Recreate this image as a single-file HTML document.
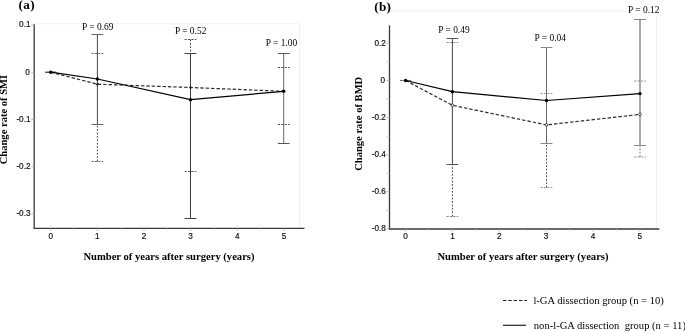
<!DOCTYPE html>
<html><head><meta charset="utf-8"><style>
html,body{margin:0;padding:0;background:#fff;width:685px;height:331px;overflow:hidden}
svg{display:block;will-change:transform}
</style></head><body>
<svg width="685" height="331" viewBox="0 0 685 331">
<rect width="685" height="331" fill="#fff"/>
<line x1="34.2" y1="23.8" x2="299.5" y2="23.8" stroke="#f1f1f1" stroke-width="1"/>
<line x1="299.5" y1="23.8" x2="299.5" y2="228.4" stroke="#f1f1f1" stroke-width="1"/>
<rect x="81.6" y="22.2" width="31" height="9.5" fill="#fff"/>
<rect x="174.4" y="26.3" width="31" height="9.5" fill="#fff"/>
<rect x="265.2" y="38.6" width="31" height="9.5" fill="#fff"/>
<line x1="34.2" y1="24.2" x2="34.2" y2="229" stroke="#3a3a3a" stroke-width="1.3"/>
<line x1="33.6" y1="228.4" x2="304.5" y2="228.4" stroke="#3a3a3a" stroke-width="1.3"/>
<line x1="31.2" y1="25.15" x2="34.2" y2="25.15" stroke="#aaaaaa" stroke-width="0.8"/>
<text x="30.5" y="27.45" font-family='"Liberation Sans", sans-serif' font-size="8.2" text-anchor="end" fill="#111" stroke="#111" stroke-width="0.18">0.1</text>
<line x1="31.2" y1="72.3" x2="34.2" y2="72.3" stroke="#aaaaaa" stroke-width="0.8"/>
<text x="29.7" y="74.6" font-family='"Liberation Sans", sans-serif' font-size="8.2" text-anchor="end" fill="#111" stroke="#111" stroke-width="0.18">0</text>
<line x1="31.2" y1="119.45" x2="34.2" y2="119.45" stroke="#aaaaaa" stroke-width="0.8"/>
<text x="30.5" y="121.75" font-family='"Liberation Sans", sans-serif' font-size="8.2" text-anchor="end" fill="#111" stroke="#111" stroke-width="0.18">-0.1</text>
<line x1="31.2" y1="166.6" x2="34.2" y2="166.6" stroke="#aaaaaa" stroke-width="0.8"/>
<text x="30.5" y="168.9" font-family='"Liberation Sans", sans-serif' font-size="8.2" text-anchor="end" fill="#111" stroke="#111" stroke-width="0.18">-0.2</text>
<line x1="31.2" y1="213.75" x2="34.2" y2="213.75" stroke="#aaaaaa" stroke-width="0.8"/>
<text x="30.5" y="216.05" font-family='"Liberation Sans", sans-serif' font-size="8.2" text-anchor="end" fill="#111" stroke="#111" stroke-width="0.18">-0.3</text>
<line x1="50.7" y1="228.4" x2="50.7" y2="230.9" stroke="#aaaaaa" stroke-width="0.8"/>
<text x="50.7" y="238.6" font-family='"Liberation Sans", sans-serif' font-size="8.2" text-anchor="middle" fill="#111" stroke="#111" stroke-width="0.18">0</text>
<line x1="74.03" y1="228.4" x2="74.03" y2="230.4" stroke="#cccccc" stroke-width="0.8"/>
<line x1="97.35" y1="228.4" x2="97.35" y2="230.9" stroke="#aaaaaa" stroke-width="0.8"/>
<text x="97.35" y="238.6" font-family='"Liberation Sans", sans-serif' font-size="8.2" text-anchor="middle" fill="#111" stroke="#111" stroke-width="0.18">1</text>
<line x1="120.67" y1="228.4" x2="120.67" y2="230.4" stroke="#cccccc" stroke-width="0.8"/>
<line x1="144" y1="228.4" x2="144" y2="230.9" stroke="#aaaaaa" stroke-width="0.8"/>
<text x="144" y="238.6" font-family='"Liberation Sans", sans-serif' font-size="8.2" text-anchor="middle" fill="#111" stroke="#111" stroke-width="0.18">2</text>
<line x1="167.32" y1="228.4" x2="167.32" y2="230.4" stroke="#cccccc" stroke-width="0.8"/>
<line x1="190.65" y1="228.4" x2="190.65" y2="230.9" stroke="#aaaaaa" stroke-width="0.8"/>
<text x="190.65" y="238.6" font-family='"Liberation Sans", sans-serif' font-size="8.2" text-anchor="middle" fill="#111" stroke="#111" stroke-width="0.18">3</text>
<line x1="213.97" y1="228.4" x2="213.97" y2="230.4" stroke="#cccccc" stroke-width="0.8"/>
<line x1="237.3" y1="228.4" x2="237.3" y2="230.9" stroke="#aaaaaa" stroke-width="0.8"/>
<text x="237.3" y="238.6" font-family='"Liberation Sans", sans-serif' font-size="8.2" text-anchor="middle" fill="#111" stroke="#111" stroke-width="0.18">4</text>
<line x1="260.62" y1="228.4" x2="260.62" y2="230.4" stroke="#cccccc" stroke-width="0.8"/>
<line x1="283.95" y1="228.4" x2="283.95" y2="230.9" stroke="#aaaaaa" stroke-width="0.8"/>
<text x="283.95" y="238.6" font-family='"Liberation Sans", sans-serif' font-size="8.2" text-anchor="middle" fill="#111" stroke="#111" stroke-width="0.18">5</text>
<text x="83.4" y="260.2" font-family='"Liberation Serif", serif' font-size="10.6" font-weight="bold" fill="#000" >Number of years after surgery (years)</text>
<text x="7.4" y="119.6" font-family='"Liberation Serif", serif' font-size="10.55" font-weight="bold" text-anchor="middle" fill="#000" transform="rotate(-90 7.4 119.6)">Change rate of SMI</text>
<line x1="45.1" y1="72.2" x2="56.3" y2="72.2" stroke="#222" stroke-width="1.1"/>
<line x1="97.4" y1="161.5" x2="97.4" y2="124.5" stroke="#444" stroke-width="1" stroke-dasharray="1.8,1.6"/>
<line x1="91.5" y1="53.5" x2="103.3" y2="53.5" stroke="#666" stroke-width="1" stroke-dasharray="2.2,1.2"/>
<line x1="91.5" y1="161.5" x2="103.3" y2="161.5" stroke="#666" stroke-width="1" stroke-dasharray="2.2,1.2"/>
<line x1="190.5" y1="39.5" x2="190.5" y2="53.5" stroke="#444" stroke-width="1" stroke-dasharray="1.8,1.6"/>
<line x1="184.6" y1="39.5" x2="196.4" y2="39.5" stroke="#555" stroke-width="1" stroke-dasharray="2.2,1.2"/>
<line x1="184.6" y1="171.5" x2="196.4" y2="171.5" stroke="#555" stroke-width="1" stroke-dasharray="2.2,1.2"/>
<line x1="277.8" y1="67.5" x2="289.6" y2="67.5" stroke="#555" stroke-width="1" stroke-dasharray="2.2,1.2"/>
<line x1="277.8" y1="124.5" x2="289.6" y2="124.5" stroke="#555" stroke-width="1" stroke-dasharray="2.2,1.2"/>
<line x1="97.4" y1="34.5" x2="97.4" y2="124.5" stroke="#444" stroke-width="1"/>
<line x1="91.5" y1="34.5" x2="103.3" y2="34.5" stroke="#666" stroke-width="1"/>
<line x1="91.5" y1="124.5" x2="103.3" y2="124.5" stroke="#666" stroke-width="1"/>
<line x1="190.5" y1="53.5" x2="190.5" y2="218.5" stroke="#3a3a3a" stroke-width="1"/>
<line x1="184.6" y1="53.5" x2="196.4" y2="53.5" stroke="#444" stroke-width="1"/>
<line x1="184.6" y1="218.5" x2="196.4" y2="218.5" stroke="#444" stroke-width="1"/>
<line x1="283.7" y1="53.5" x2="283.7" y2="143.5" stroke="#666" stroke-width="1"/>
<line x1="277.8" y1="53.5" x2="289.6" y2="53.5" stroke="#555" stroke-width="1"/>
<line x1="277.8" y1="143.5" x2="289.6" y2="143.5" stroke="#555" stroke-width="1"/>
<polyline points="50.7,72.2 97.4,84.2 190.5,87.5 283.7,91.3" fill="none" stroke="#2a2a2a" stroke-width="1.2" stroke-dasharray="3.4,2"/>
<polyline points="50.7,72.2 97.4,79.0 190.5,99.7 283.7,91.3" fill="none" stroke="#000" stroke-width="1.2"/>
<circle cx="97.4" cy="79.0" r="1.7" fill="#000"/>
<circle cx="190.5" cy="99.7" r="1.7" fill="#000"/>
<circle cx="283.7" cy="91.3" r="1.7" fill="#000"/>
<circle cx="50.7" cy="72.2" r="1.7" fill="#000"/>
<text x="82.1" y="29.7" font-family='"Liberation Serif", serif' font-size="9.45" fill="#000" >P = 0.69</text>
<text x="174.9" y="33.8" font-family='"Liberation Serif", serif' font-size="9.45" fill="#000" >P = 0.52</text>
<text x="265.7" y="46.1" font-family='"Liberation Serif", serif' font-size="9.45" fill="#000" >P = 1.00</text>
<line x1="389.5" y1="11.1" x2="656.5" y2="11.1" stroke="#f1f1f1" stroke-width="1"/>
<line x1="656.5" y1="11.1" x2="656.5" y2="229" stroke="#f1f1f1" stroke-width="1"/>
<rect x="437.7" y="25.7" width="31" height="9.5" fill="#fff"/>
<rect x="534" y="33.6" width="31" height="9.5" fill="#fff"/>
<rect x="627.5" y="5.6" width="31" height="9.5" fill="#fff"/>
<line x1="389.5" y1="25.3" x2="389.5" y2="229.6" stroke="#3a3a3a" stroke-width="1.3"/>
<line x1="388.9" y1="229" x2="659.4" y2="229" stroke="#3a3a3a" stroke-width="1.3"/>
<line x1="386.5" y1="43.25" x2="389.5" y2="43.25" stroke="#aaaaaa" stroke-width="0.8"/>
<text x="385.8" y="45.55" font-family='"Liberation Sans", sans-serif' font-size="8.2" text-anchor="end" fill="#111" stroke="#111" stroke-width="0.18">0.2</text>
<line x1="386.5" y1="80.4" x2="389.5" y2="80.4" stroke="#aaaaaa" stroke-width="0.8"/>
<text x="385" y="82.7" font-family='"Liberation Sans", sans-serif' font-size="8.2" text-anchor="end" fill="#111" stroke="#111" stroke-width="0.18">0</text>
<line x1="386.5" y1="117.55" x2="389.5" y2="117.55" stroke="#aaaaaa" stroke-width="0.8"/>
<text x="385.8" y="119.85" font-family='"Liberation Sans", sans-serif' font-size="8.2" text-anchor="end" fill="#111" stroke="#111" stroke-width="0.18">-0.2</text>
<line x1="386.5" y1="154.7" x2="389.5" y2="154.7" stroke="#aaaaaa" stroke-width="0.8"/>
<text x="385.8" y="157" font-family='"Liberation Sans", sans-serif' font-size="8.2" text-anchor="end" fill="#111" stroke="#111" stroke-width="0.18">-0.4</text>
<line x1="386.5" y1="191.85" x2="389.5" y2="191.85" stroke="#aaaaaa" stroke-width="0.8"/>
<text x="385.8" y="194.15" font-family='"Liberation Sans", sans-serif' font-size="8.2" text-anchor="end" fill="#111" stroke="#111" stroke-width="0.18">-0.6</text>
<line x1="386.5" y1="229" x2="389.5" y2="229" stroke="#aaaaaa" stroke-width="0.8"/>
<text x="385.8" y="231.3" font-family='"Liberation Sans", sans-serif' font-size="8.2" text-anchor="end" fill="#111" stroke="#111" stroke-width="0.18">-0.8</text>
<line x1="386.5" y1="61.83" x2="389.5" y2="61.83" stroke="#bbbbbb" stroke-width="0.8"/>
<line x1="386.5" y1="98.98" x2="389.5" y2="98.98" stroke="#bbbbbb" stroke-width="0.8"/>
<line x1="386.5" y1="136.12" x2="389.5" y2="136.12" stroke="#bbbbbb" stroke-width="0.8"/>
<line x1="386.5" y1="173.28" x2="389.5" y2="173.28" stroke="#bbbbbb" stroke-width="0.8"/>
<line x1="386.5" y1="210.43" x2="389.5" y2="210.43" stroke="#bbbbbb" stroke-width="0.8"/>
<line x1="405.6" y1="229" x2="405.6" y2="231.5" stroke="#aaaaaa" stroke-width="0.8"/>
<text x="405.6" y="239.2" font-family='"Liberation Sans", sans-serif' font-size="8.2" text-anchor="middle" fill="#111" stroke="#111" stroke-width="0.18">0</text>
<line x1="429.02" y1="229" x2="429.02" y2="231" stroke="#cccccc" stroke-width="0.8"/>
<line x1="452.45" y1="229" x2="452.45" y2="231.5" stroke="#aaaaaa" stroke-width="0.8"/>
<text x="452.45" y="239.2" font-family='"Liberation Sans", sans-serif' font-size="8.2" text-anchor="middle" fill="#111" stroke="#111" stroke-width="0.18">1</text>
<line x1="475.88" y1="229" x2="475.88" y2="231" stroke="#cccccc" stroke-width="0.8"/>
<line x1="499.3" y1="229" x2="499.3" y2="231.5" stroke="#aaaaaa" stroke-width="0.8"/>
<text x="499.3" y="239.2" font-family='"Liberation Sans", sans-serif' font-size="8.2" text-anchor="middle" fill="#111" stroke="#111" stroke-width="0.18">2</text>
<line x1="522.72" y1="229" x2="522.72" y2="231" stroke="#cccccc" stroke-width="0.8"/>
<line x1="546.15" y1="229" x2="546.15" y2="231.5" stroke="#aaaaaa" stroke-width="0.8"/>
<text x="546.15" y="239.2" font-family='"Liberation Sans", sans-serif' font-size="8.2" text-anchor="middle" fill="#111" stroke="#111" stroke-width="0.18">3</text>
<line x1="569.57" y1="229" x2="569.57" y2="231" stroke="#cccccc" stroke-width="0.8"/>
<line x1="593" y1="229" x2="593" y2="231.5" stroke="#aaaaaa" stroke-width="0.8"/>
<text x="593" y="239.2" font-family='"Liberation Sans", sans-serif' font-size="8.2" text-anchor="middle" fill="#111" stroke="#111" stroke-width="0.18">4</text>
<line x1="616.42" y1="229" x2="616.42" y2="231" stroke="#cccccc" stroke-width="0.8"/>
<line x1="639.85" y1="229" x2="639.85" y2="231.5" stroke="#aaaaaa" stroke-width="0.8"/>
<text x="639.85" y="239.2" font-family='"Liberation Sans", sans-serif' font-size="8.2" text-anchor="middle" fill="#111" stroke="#111" stroke-width="0.18">5</text>
<text x="437.4" y="259.8" font-family='"Liberation Serif", serif' font-size="10.6" font-weight="bold" fill="#000" >Number of years after surgery (years)</text>
<text x="362" y="123.8" font-family='"Liberation Serif", serif' font-size="10.55" font-weight="bold" text-anchor="middle" fill="#000" transform="rotate(-90 362.0 123.8)">Change rate of BMD</text>
<line x1="400" y1="80.5" x2="411.2" y2="80.5" stroke="#777" stroke-width="1.1"/>
<line x1="452.4" y1="216.5" x2="452.4" y2="164.5" stroke="#444" stroke-width="1" stroke-dasharray="1.8,1.6"/>
<line x1="446.5" y1="42.5" x2="458.3" y2="42.5" stroke="#888" stroke-width="1" stroke-dasharray="2.2,1.2"/>
<line x1="446.5" y1="216.5" x2="458.3" y2="216.5" stroke="#888" stroke-width="1" stroke-dasharray="2.2,1.2"/>
<line x1="546.5" y1="187.5" x2="546.5" y2="143.5" stroke="#555" stroke-width="1" stroke-dasharray="1.8,1.6"/>
<line x1="540.6" y1="93.5" x2="552.4" y2="93.5" stroke="#999" stroke-width="1" stroke-dasharray="2.2,1.2"/>
<line x1="540.6" y1="187.5" x2="552.4" y2="187.5" stroke="#999" stroke-width="1" stroke-dasharray="2.2,1.2"/>
<line x1="640" y1="157" x2="640" y2="145.5" stroke="#777" stroke-width="1" stroke-dasharray="1.8,1.6"/>
<line x1="634.1" y1="81" x2="645.9" y2="81" stroke="#999" stroke-width="1" stroke-dasharray="2.2,1.2"/>
<line x1="634.1" y1="157" x2="645.9" y2="157" stroke="#999" stroke-width="1" stroke-dasharray="2.2,1.2"/>
<line x1="452.4" y1="38.5" x2="452.4" y2="164.5" stroke="#444" stroke-width="1"/>
<line x1="446.5" y1="38.5" x2="458.3" y2="38.5" stroke="#555" stroke-width="1"/>
<line x1="446.5" y1="164.5" x2="458.3" y2="164.5" stroke="#555" stroke-width="1"/>
<line x1="546.5" y1="47.5" x2="546.5" y2="143.5" stroke="#666" stroke-width="1"/>
<line x1="540.6" y1="47.5" x2="552.4" y2="47.5" stroke="#888" stroke-width="1"/>
<line x1="540.6" y1="143.5" x2="552.4" y2="143.5" stroke="#888" stroke-width="1"/>
<line x1="640" y1="19.5" x2="640" y2="145.5" stroke="#555" stroke-width="1"/>
<line x1="634.1" y1="19.5" x2="645.9" y2="19.5" stroke="#888" stroke-width="1"/>
<line x1="634.1" y1="145.5" x2="645.9" y2="145.5" stroke="#888" stroke-width="1"/>
<polyline points="405.6,80.5 452.4,105.3 546.5,124.9 640.0,114.4" fill="none" stroke="#2a2a2a" stroke-width="1.2" stroke-dasharray="3.4,2"/>
<polyline points="405.6,80.5 452.4,91.7 546.5,100.5 640.0,93.6" fill="none" stroke="#000" stroke-width="1.2"/>
<circle cx="452.4" cy="91.7" r="1.7" fill="#000"/>
<circle cx="546.5" cy="100.5" r="1.7" fill="#000"/>
<circle cx="640.0" cy="93.6" r="1.7" fill="#000"/>
<circle cx="405.6" cy="80.5" r="1.7" fill="#000"/>
<text x="438.2" y="33.2" font-family='"Liberation Serif", serif' font-size="9.45" fill="#000" >P = 0.49</text>
<text x="534.5" y="41.1" font-family='"Liberation Serif", serif' font-size="9.45" fill="#000" >P = 0.04</text>
<text x="628" y="13.1" font-family='"Liberation Serif", serif' font-size="9.45" fill="#000" >P = 0.12</text>
<circle cx="452.4" cy="105.3" r="1.35" fill="#fff" stroke="#222" stroke-width="0.8"/>
<circle cx="546.5" cy="124.9" r="1.35" fill="#fff" stroke="#222" stroke-width="0.8"/>
<circle cx="640.0" cy="114.4" r="1.35" fill="#fff" stroke="#222" stroke-width="0.8"/>
<circle cx="97.4" cy="84.2" r="1.2" fill="#222"/>
<circle cx="190.5" cy="87.5" r="1.2" fill="#222"/>
<text x="18.6" y="8.8" font-family='"Liberation Serif", serif' font-size="13.2" font-weight="bold" fill="#000" letter-spacing="0.35">(a)</text>
<text x="374.3" y="11.1" font-family='"Liberation Serif", serif' font-size="13.2" font-weight="bold" fill="#000" letter-spacing="0.3">(b)</text>
<line x1="503" y1="300.5" x2="527" y2="300.5" stroke="#222" stroke-width="1.1" stroke-dasharray="3.4,1.9"/>
<line x1="503" y1="325.3" x2="526" y2="325.3" stroke="#222" stroke-width="1.2"/>
<text x="533.4" y="304" font-family='"Liberation Serif", serif' font-size="10.6" fill="#000" >l-GA dissection group (n = 10)</text>
<text x="533.8" y="329" font-family='"Liberation Serif", serif' font-size="10.6" fill="#000" >non-l-GA dissection&#160; group (n = 11)</text>
</svg>
</body></html>
